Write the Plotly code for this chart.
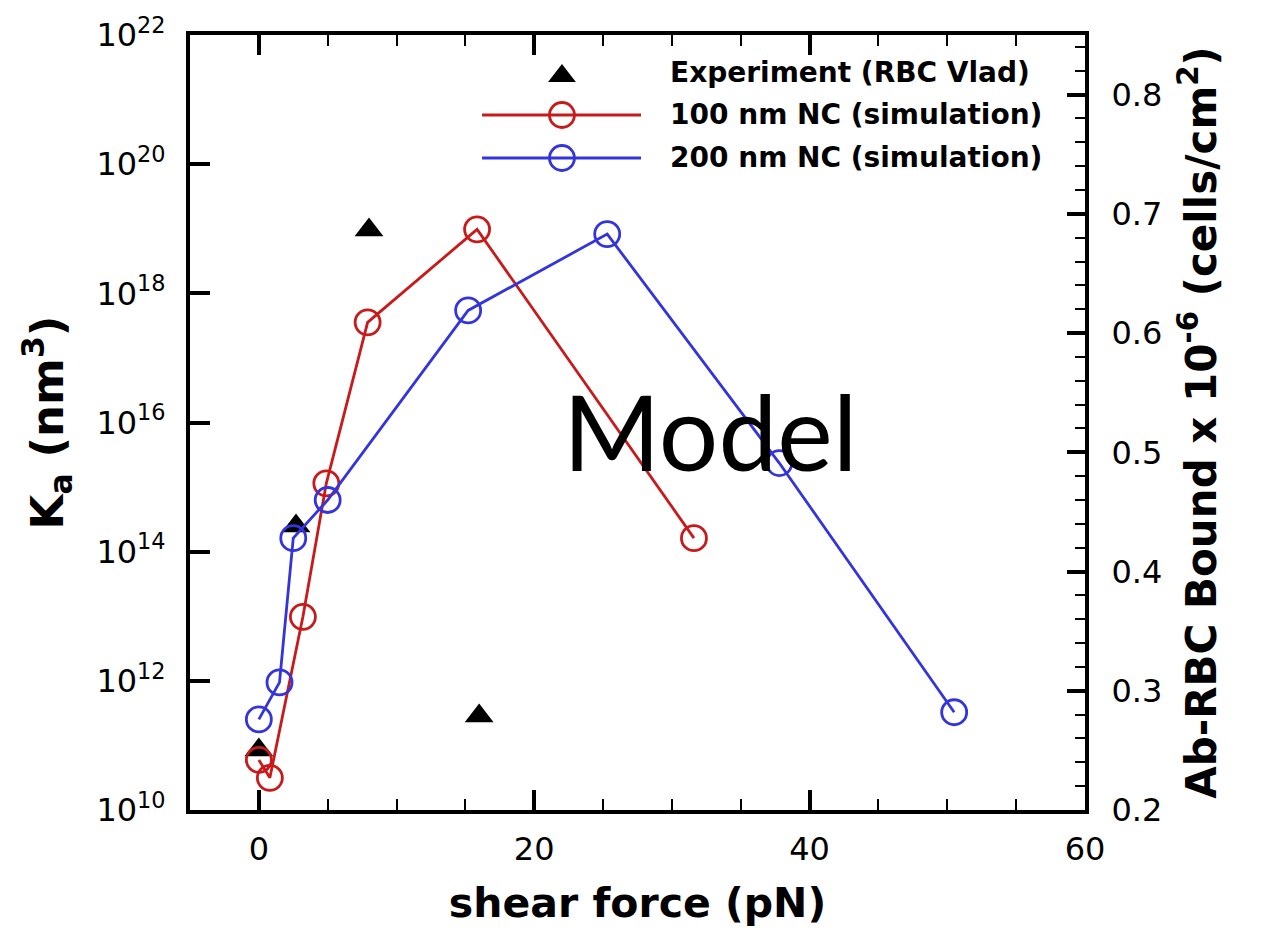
import plotly.graph_objects as go

# ---------------- data ----------------
exp_force = [0.0, 2.7, 8.0, 16.0]                      # pN
exp_ka = [8.5e10, 2.5e14, 9.6e18, 2.85e11]             # nm^3

nc100_force = [0.0, 0.8, 3.2, 4.9, 7.9, 15.85, 31.6]   # pN
nc100_bound = [0.242, 0.227, 0.362, 0.474, 0.609, 0.687, 0.428]

nc200_force = [0.0, 1.5, 2.5, 5.0, 15.2, 25.3, 37.8, 50.5]
nc200_bound = [0.276, 0.307, 0.428, 0.460, 0.619, 0.683, 0.491, 0.282]

ka_tickvals = [1e10, 1e12, 1e14, 1e16, 1e18, 1e20, 1e22]
ka_ticktext = ["10<sup>10</sup>", "10<sup>12</sup>", "10<sup>14</sup>", "10<sup>16</sup>",
               "10<sup>18</sup>", "10<sup>20</sup>", "10<sup>22</sup>"]

legend_labels = ["Experiment (RBC Vlad)", "100 nm NC (simulation)", "200 nm NC (simulation)"]

RED = "#c81a1a"
BLUE = "#3434dc"
FONT = "DejaVu Sans"

fig = go.Figure()

fig.add_trace(go.Scatter(
    x=exp_force, y=exp_ka, mode="markers", name=legend_labels[0],
    marker=dict(symbol="triangle-up", size=25, color="black"),
    yaxis="y", showlegend=False))

fig.add_trace(go.Scatter(
    x=nc100_force, y=nc100_bound, mode="lines+markers", name=legend_labels[1],
    line=dict(color=RED, width=2.8),
    marker=dict(symbol="circle-open", size=25, color=RED, line=dict(width=2.8, color=RED)),
    yaxis="y2", showlegend=False))

fig.add_trace(go.Scatter(
    x=nc200_force, y=nc200_bound, mode="lines+markers", name=legend_labels[2],
    line=dict(color=BLUE, width=2.8),
    marker=dict(symbol="circle-open", size=25, color=BLUE, line=dict(width=2.8, color=BLUE)),
    yaxis="y2", showlegend=False))

axis_common = dict(showgrid=False, zeroline=False, showline=True, linecolor="black",
                   linewidth=4, ticks="inside", tickcolor="black", tickwidth=3.5,
                   tickfont=dict(family=FONT, size=32, color="black"), automargin=False)

fig.update_layout(
    width=1261, height=947,
    margin=dict(l=190, r=176, t=35, b=137),
    paper_bgcolor="white", plot_bgcolor="white",
    font=dict(family=FONT, color="black"),
    showlegend=False,
    xaxis=dict(**axis_common, range=[-5, 60], tick0=0, dtick=20, ticklen=20,
               mirror="ticks", ticklabelstandoff=8,
               minor=dict(dtick=5, tick0=0, ticks="inside", ticklen=11, tickwidth=2,
                          tickcolor="black", showgrid=False),
               title=dict(text="<b>shear force (pN)</b>", standoff=22,
                          font=dict(family=FONT, size=41, color="black"))),
    yaxis=dict(**axis_common, type="log", range=[10, 22], tickvals=ka_tickvals,
               ticktext=ka_ticktext, ticklen=20, ticklabelstandoff=14,
               title=dict(text="<b>K<sub>a</sub> (nm<sup>3</sup>)</b>", standoff=20,
                          font=dict(family=FONT, size=45, color="black"))),
    yaxis2=dict(**axis_common, overlaying="y", side="right", range=[0.2, 0.85],
                tick0=0.2, dtick=0.1, tickformat=".1f", ticklen=18, ticklabelstandoff=16,
                minor=dict(dtick=0.02, ticks="inside", ticklen=10, tickwidth=2,
                           tickcolor="black", showgrid=False),
                title=dict(text="<b>Ab-RBC Bound x 10<sup>-6</sup> (cells/cm<sup>2</sup>)</b>",
                           standoff=26, font=dict(family=FONT, size=42, color="black"))),
)

# ---------------- hand-drawn legend (long sample lines like the original) ----------------
leg_x0, leg_x1, leg_xc, leg_text_x = 0.3263, 0.5039, 0.4156, 0.534
leg_rows = [0.947, 0.8968, 0.8413]
text_rows = [0.951, 0.8968, 0.8413]

shapes = [
    dict(type="path", xref="paper", yref="paper", xsizemode="pixel", ysizemode="pixel",
         xanchor=leg_xc, yanchor=leg_rows[0],
         path="M -13.9 -6 L 13.9 -6 L 0 12 Z", fillcolor="black", line=dict(width=0)),
]
for row, col in zip(leg_rows[1:], [RED, BLUE]):
    shapes.append(dict(type="line", xref="paper", yref="paper", x0=leg_x0, x1=leg_x1,
                       y0=row, y1=row, line=dict(color=col, width=2.8)))
    shapes.append(dict(type="circle", xref="paper", yref="paper", xsizemode="pixel",
                       ysizemode="pixel", xanchor=leg_xc, yanchor=row,
                       x0=-12.5, x1=12.5, y0=-12.5, y1=12.5,
                       line=dict(color=col, width=2.8)))
fig.update_layout(shapes=shapes)

annotations = []
for lab, row in zip(legend_labels, text_rows):
    annotations.append(dict(xref="paper", yref="paper", x=leg_text_x, y=row,
                            xanchor="left", yanchor="middle", showarrow=False,
                            text="<b>" + lab + "</b>",
                            font=dict(family=FONT, size=28, color="black")))
annotations.append(dict(xref="paper", yref="paper", x=0.581, y=0.49, xanchor="center",
                        yanchor="middle", showarrow=False, text="Model",
                        font=dict(family="Lato", size=105, color="black")))
fig.update_layout(annotations=annotations)

fig.write_html("out.html")
